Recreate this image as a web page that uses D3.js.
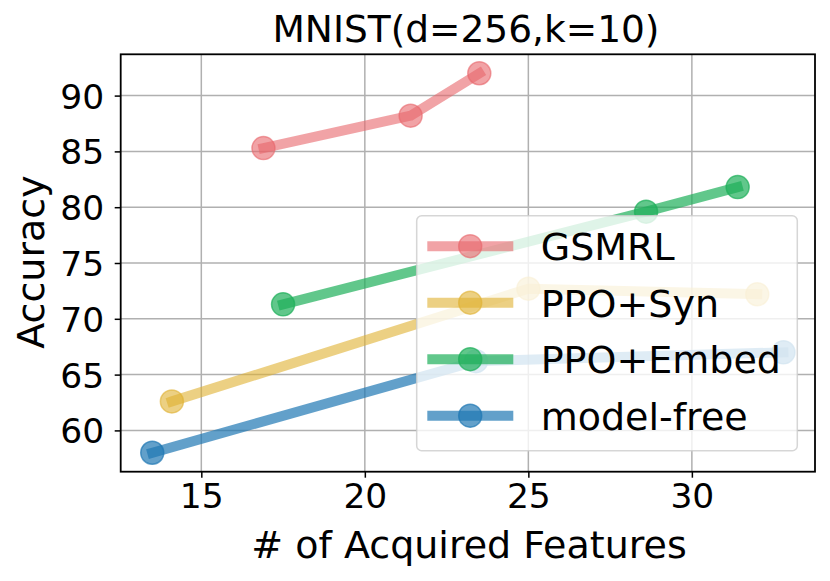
<!DOCTYPE html>
<html>
<head>
<meta charset="utf-8">
<script src="https://cdn.jsdelivr.net/npm/d3@7"></script>
<style>
  body { margin: 0; background: #fff; }
  text { font-family: "DejaVu Sans", sans-serif; fill: #000; }
</style>
</head>
<body>
<svg id="chart"></svg>
<script>
// series: [features, accuracy]
var seriesNames = ["GSMRL", "PPO+Syn", "PPO+Embed", "model-free"];
var gsmrlX = [16.9, 21.4, 23.5];
var gsmrlY = [85.3, 88.2, 92.0];
var synX = [14.1, 25.0, 32.0];
var synY = [62.6, 72.7, 72.2];
var embedX = [17.5, 28.6, 31.4];
var embedY = [71.3, 79.6, 81.8];
var freeX = [13.5, 23.4, 32.8];
var freeY = [58.0, 66.2, 67.0];
var xTicks = [15, 20, 25, 30];
var yTicks = [60, 65, 70, 75, 80, 85, 90];

var colors = ["#e8666b", "#e0b030", "#1eaf5a", "#1f77b4"];
var alphas = [0.6, 0.6, 0.7, 0.7];

var width = 830, height = 581;
var margin = { top: 54.3, right: 15, bottom: 109.3, left: 120.7 };
var plotW = width - margin.left - margin.right,
    plotH = height - margin.top - margin.bottom;

var svg = d3.select("#chart").attr("width", width).attr("height", height);
var g = svg.append("g").attr("transform", "translate(" + margin.left + "," + margin.top + ")");

// matplotlib-style 5% padding around the data
var allX = gsmrlX.concat(synX, embedX, freeX), allY = gsmrlY.concat(synY, embedY, freeY);
var xmin = d3.min(allX), xmax = d3.max(allX), ymin = d3.min(allY), ymax = d3.max(allY);
var xPad = (xmax - xmin) * 0.05, yPad = (ymax - ymin) * 0.05;

var x = d3.scaleLinear().domain([xmin - xPad, xmax + xPad]).range([0, plotW]);
var y = d3.scaleLinear().domain([ymin - yPad, ymax + yPad]).range([plotH, 0]);

// grid
g.append("g").selectAll("line").data(xTicks).enter().append("line")
    .attr("x1", d => x(d)).attr("x2", d => x(d)).attr("y1", 0).attr("y2", plotH)
    .attr("stroke", "#b0b0b0").attr("stroke-width", 1.5);
g.append("g").selectAll("line").data(yTicks).enter().append("line")
    .attr("y1", d => y(d)).attr("y2", d => y(d)).attr("x1", 0).attr("x2", plotW)
    .attr("stroke", "#b0b0b0").attr("stroke-width", 1.5);

// axes
var xAxis = g.append("g").attr("transform", "translate(0," + plotH + ")")
    .call(d3.axisBottom(x).tickValues(xTicks).tickSize(6).tickSizeOuter(0));
var yAxis = g.append("g")
    .call(d3.axisLeft(y).tickValues(yTicks).tickSize(6).tickSizeOuter(0));
[xAxis, yAxis].forEach(function (a) {
    a.select(".domain").remove();
    a.selectAll("line").attr("stroke", "#000").attr("stroke-width", 1.5);
    a.selectAll("text").style("font-size", "34.5px").style("font-family", "DejaVu Sans");
});
xAxis.selectAll("text").attr("y", 36.5).attr("dy", 0);
yAxis.selectAll("text").attr("x", -16.5).attr("dy", "0.36em");

// series
var allSeries = [[gsmrlX, gsmrlY], [synX, synY], [embedX, embedY], [freeX, freeY]];
var line = d3.line().x(d => x(d[0])).y(d => y(d[1]));
allSeries.forEach(function (s, i) {
    var pts = s[0].map(function (v, j) { return [v, s[1][j]]; });
    var sg = g.append("g");
    sg.append("path").datum(pts).attr("d", line)
        .attr("fill", "none").attr("stroke", colors[i]).attr("stroke-opacity", alphas[i])
        .attr("stroke-width", 10).attr("stroke-linecap", "square").attr("stroke-linejoin", "round");
    sg.selectAll("circle").data(pts).enter().append("circle")
        .attr("cx", d => x(d[0])).attr("cy", d => y(d[1])).attr("r", 11.5)
        .attr("fill", colors[i]).attr("fill-opacity", alphas[i])
        .attr("stroke", colors[i]).attr("stroke-opacity", alphas[i]).attr("stroke-width", 1.5);
});

// frame
g.append("rect").attr("width", plotW).attr("height", plotH)
    .attr("fill", "none").attr("stroke", "#000").attr("stroke-width", 1.8);

// legend
var lg = svg.append("g").attr("transform", "translate(416.7,215.7)");
lg.append("rect").attr("width", 380.6).attr("height", 235).attr("rx", 5)
    .attr("fill", "#fff").attr("fill-opacity", 0.8)
    .attr("stroke", "#cccccc").attr("stroke-opacity", 0.8).attr("stroke-width", 1.5);
seriesNames.forEach(function (name, i) {
    var ry = 30.5 + i * 56.5;
    lg.append("line").attr("x1", 10.6).attr("x2", 96.6).attr("y1", ry).attr("y2", ry)
        .attr("stroke", colors[i]).attr("stroke-opacity", alphas[i]).attr("stroke-width", 10);
    lg.append("circle").attr("cx", 53.5).attr("cy", ry).attr("r", 11.5)
        .attr("fill", colors[i]).attr("fill-opacity", alphas[i])
        .attr("stroke", colors[i]).attr("stroke-opacity", alphas[i]).attr("stroke-width", 1.5);
    lg.append("text").attr("x", 124).attr("y", ry + 14)
        .style("font-size", "38px").text(name);
});

// title and labels
svg.append("text").attr("text-anchor", "middle").attr("x", 466).attr("y", 42)
    .style("font-size", "37.5px").text("MNIST(d=256,k=10)");
svg.append("text").attr("text-anchor", "middle").attr("x", 469).attr("y", 558)
    .style("font-size", "38px").text("# of Acquired Features");
svg.append("text").attr("text-anchor", "middle")
    .attr("transform", "translate(44,262) rotate(-90)")
    .style("font-size", "38px").text("Accuracy");
</script>
</body>
</html>
